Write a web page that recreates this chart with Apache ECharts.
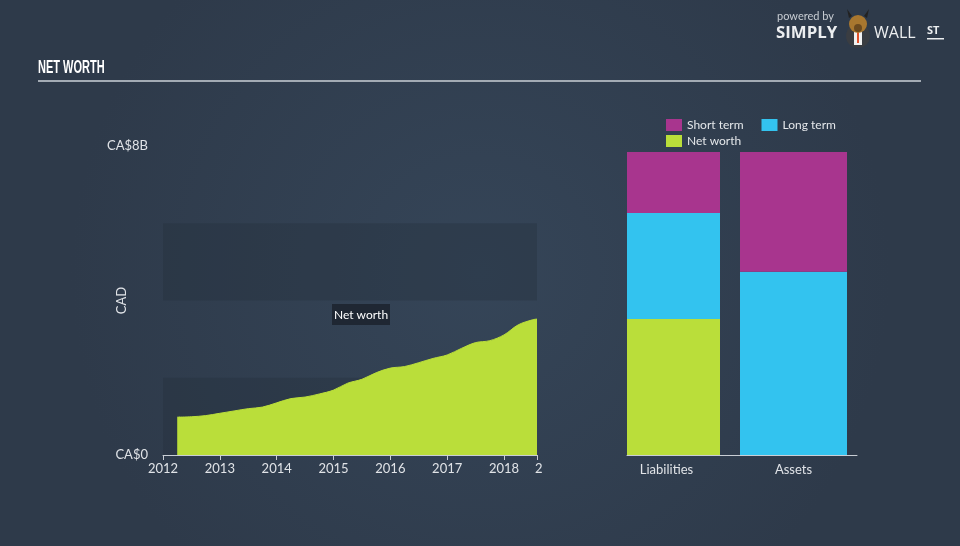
<!DOCTYPE html>
<html>
<head>
<meta charset="utf-8">
<script src="https://cdn.jsdelivr.net/npm/echarts@6/dist/echarts.min.js"></script>
<style>
html,body{margin:0;padding:0;background:#323f51;}
#chart{width:960px;height:546px;}
</style>
</head>
<body>
<div id="chart"></div>
<script>
// ---- data ----
var netWorthYears = [2012.25, 2012.5, 2012.75, 2013, 2013.25, 2013.5, 2013.75, 2014, 2014.25, 2014.5, 2014.75, 2015, 2015.25, 2015.5, 2015.75, 2016, 2016.25, 2016.5, 2016.75, 2017, 2017.25, 2017.5, 2017.75, 2018, 2018.25, 2018.5, 2018.58];
var netWorthValues = [0.98, 0.99, 1.02, 1.08, 1.14, 1.2, 1.24, 1.35, 1.46, 1.5, 1.58, 1.68, 1.86, 1.96, 2.13, 2.25, 2.29, 2.39, 2.5, 2.59, 2.76, 2.91, 2.96, 3.11, 3.37, 3.5, 3.52];
var yTickLabels = {0: 'CA$0', 8: 'CA$8B'};
var xTickYears = [2012, 2013, 2014, 2015, 2016, 2017, 2018];

var liabilityCategory = ['Liabilities'];
var assetCategory = ['Assets'];
var liabShortTerm = [1.58];
var liabLongTerm = [2.74];
var liabNetWorth = [3.52];
var assetShortTerm = [3.10];
var assetLongTerm = [4.74];

var C_SHORT = '#a8358e', C_LONG = '#33c3ef', C_NET = '#bade3a';
var FONT = 'Lato';
var totalL = liabShortTerm[0] + liabLongTerm[0] + liabNetWorth[0];
var totalA = assetShortTerm[0] + assetLongTerm[0];
var barMax = Math.max(totalL, totalA);

var chart = echarts.init(document.getElementById('chart'));
var option = {
  backgroundColor: {
    type: 'radial', x: 0.5, y: 0.5, r: 0.75,
    colorStops: [{offset: 0, color: '#354558'}, {offset: 1, color: '#2e3a4a'}]
  },
  animation: false,
  textStyle: {fontFamily: FONT},
  legend: [{
    data: ['Short term', 'Long term'],
    left: 661, top: 114, icon: 'rect', itemWidth: 16, itemHeight: 12, itemGap: 18,
    selectedMode: false,
    textStyle: {color: '#e4e7ea', fontSize: 12, fontFamily: FONT}
  }, {
    data: ['Net worth'],
    left: 661, top: 130, icon: 'rect', itemWidth: 16, itemHeight: 12,
    selectedMode: false,
    textStyle: {color: '#e4e7ea', fontSize: 12, fontFamily: FONT}
  }],
  grid: [
    {left: 163, width: 374, top: 146, bottom: 91},
    {left: 627, width: 93, top: 152, bottom: 91},
    {left: 740, width: 107, top: 152, bottom: 91},
    {left: 627, width: 230, top: 152, bottom: 91}
  ],
  xAxis: [{
    gridIndex: 0, type: 'value', min: 2012, max: 2018.58, interval: 1,
    axisLine: {show: true, lineStyle: {color: '#c9ced5', width: 1}},
    axisTick: {show: true, length: 5, lineStyle: {color: '#c9ced5'}},
    splitLine: {show: false},
    axisLabel: {color: '#e0e3e7', fontSize: 13, margin: 7, fontFamily: FONT,
      formatter: function (v) { return xTickYears.indexOf(v) >= 0 ? String(v) : ''; }}
  }, {
    gridIndex: 1, type: 'category', data: liabilityCategory,
    axisLine: {show: false}, axisTick: {show: false},
    axisLabel: {color: '#e0e3e7', fontSize: 13, margin: 8, fontFamily: FONT, padding: [0, 14, 0, 0]}
  }, {
    gridIndex: 2, type: 'category', data: assetCategory,
    axisLine: {show: false}, axisTick: {show: false},
    axisLabel: {color: '#e0e3e7', fontSize: 13, margin: 8, fontFamily: FONT}
  }, {
    gridIndex: 3, type: 'category', data: [''],
    axisLine: {show: true, lineStyle: {color: '#c9ced5', width: 1}},
    axisTick: {show: false}, axisLabel: {show: false}
  }],
  yAxis: [{
    gridIndex: 0, type: 'value', min: 0, max: 8, interval: 2,
    name: 'CAD', nameLocation: 'middle', nameGap: 35, nameRotate: 90, nameMoveOverlap: false,
    nameTextStyle: {color: '#e0e3e7', fontSize: 13, fontFamily: FONT},
    axisLine: {show: false}, axisTick: {show: false},
    splitLine: {show: false},
    splitArea: {show: true, areaStyle: {color: ['rgba(36,46,60,0.34)', 'rgba(0,0,0,0)']}},
    axisLabel: {color: '#e0e3e7', fontSize: 13, margin: 15, fontFamily: FONT,
      formatter: function (v) { return yTickLabels[v] || ''; }}
  }, {
    gridIndex: 1, type: 'value', min: 0, max: barMax, show: false
  }, {
    gridIndex: 2, type: 'value', min: 0, max: barMax, show: false
  }, {
    gridIndex: 3, type: 'value', min: 0, max: 1, show: false
  }],
  series: [{
    name: 'Net worth', type: 'line', xAxisIndex: 0, yAxisIndex: 0,
    data: netWorthYears.map(function (y, i) { return [y, netWorthValues[i]]; }),
    smooth: 0.35, showSymbol: false, silent: true,
    itemStyle: {color: C_NET},
    lineStyle: {color: C_NET, width: 1},
    areaStyle: {color: C_NET, opacity: 1}
  }, {
    name: 'Net worth', type: 'bar', xAxisIndex: 1, yAxisIndex: 1, stack: 'L',
    barCategoryGap: 0, data: liabNetWorth, itemStyle: {color: C_NET}
  }, {
    name: 'Long term', type: 'bar', xAxisIndex: 1, yAxisIndex: 1, stack: 'L',
    barCategoryGap: 0, data: liabLongTerm, itemStyle: {color: C_LONG}
  }, {
    name: 'Short term', type: 'bar', xAxisIndex: 1, yAxisIndex: 1, stack: 'L',
    barCategoryGap: 0, data: liabShortTerm, itemStyle: {color: C_SHORT}
  }, {
    name: 'Long term', type: 'bar', xAxisIndex: 2, yAxisIndex: 2, stack: 'A',
    barCategoryGap: 0, data: assetLongTerm, itemStyle: {color: C_LONG}
  }, {
    name: 'Short term', type: 'bar', xAxisIndex: 2, yAxisIndex: 2, stack: 'A',
    barCategoryGap: 0, data: assetShortTerm, itemStyle: {color: C_SHORT}
  }],
  graphic: [
    // title and rule
    {type: 'text', x: 38, y: 58, scaleX: 0.58, style: {text: 'NET WORTH', fill: '#ffffff', font: 'bold 19px "Liberation Sans"'}},
    {type: 'rect', shape: {x: 38, y: 80, width: 883, height: 2}, style: {fill: '#a3abb4'}},
    // clipped final tick label
    {type: 'text', x: 535, y: 462, style: {text: '2', fill: '#e0e3e7', font: '13px Lato'}},
    // hover label
    {type: 'rect', shape: {x: 332, y: 304, width: 58, height: 21}, style: {fill: '#1f2733'}},
    {type: 'text', x: 361, y: 315, style: {text: 'Net worth', fill: '#ffffff', font: '12px Lato', align: 'center', verticalAlign: 'middle'}},
    // logo
    {type: 'text', x: 777, y: 11, style: {text: 'powered by', fill: '#c8cdd3', font: '11px Lato'}},
    {type: 'text', x: 776, y: 25, scaleX: 1.05, style: {text: 'SIMPLY', fill: '#eceef0', font: 'bold 16px "Open Sans"'}},
    {type: 'circle', shape: {cx: 858, cy: 36, r: 12}, style: {fill: '#3a3d42'}},
    {type: 'rect', shape: {x: 854, y: 31, width: 8, height: 14}, style: {fill: '#f2f2f2'}},
    {type: 'rect', shape: {x: 857, y: 32, width: 2, height: 11}, style: {fill: '#e2532d'}},
    {type: 'circle', shape: {cx: 858, cy: 24, r: 9}, style: {fill: '#a8772f'}},
    {type: 'circle', shape: {cx: 858, cy: 28, r: 4}, style: {fill: '#6b4a1f'}},
    {type: 'polygon', shape: {points: [[849, 18], [847, 9], [852, 16]]}, style: {fill: '#222'}},
    {type: 'polygon', shape: {points: [[867, 18], [869, 9], [864, 16]]}, style: {fill: '#222'}},
    {type: 'text', x: 874, y: 25, style: {text: 'WALL', fill: '#eceef0', font: '16px "Open Sans"'}},
    {type: 'text', x: 927, y: 25, style: {text: 'ST', fill: '#eceef0', font: 'bold 11px "Open Sans"'}},
    {type: 'rect', shape: {x: 927, y: 38, width: 17, height: 1.5}, style: {fill: '#eceef0'}}
  ]
};
chart.setOption(option);
</script>
</body>
</html>
